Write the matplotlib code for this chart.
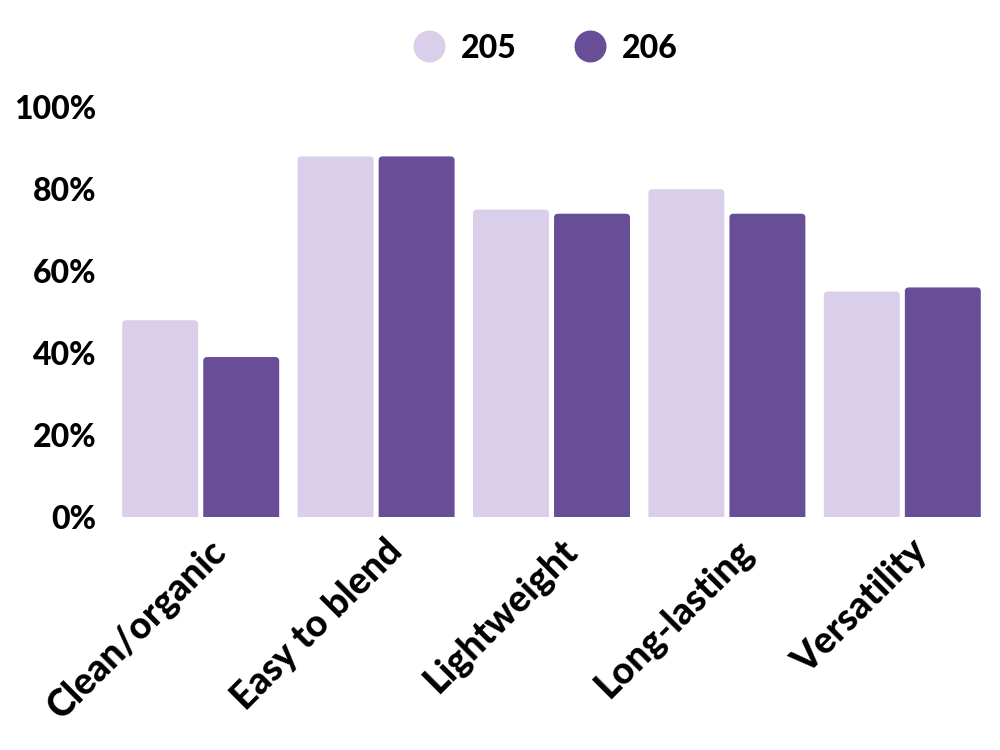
import matplotlib.pyplot as plt
import matplotlib.transforms as mtrans
from matplotlib.patches import FancyBboxPatch
from matplotlib.lines import Line2D
import numpy as np

plt.rcParams['font.family'] = ['Lato', 'DejaVu Sans']

categories = ["Clean/organic", "Easy to blend", "Lightweight", "Long-lasting", "Versatility"]
series_names = ["205", "206"]
values_205 = [48, 88, 75, 80, 55]
values_206 = [39, 88, 74, 74, 56]
colors = ["#d9cfea", "#684d97"]

fig = plt.figure(figsize=(10, 7.5), dpi=100)
ax = fig.add_axes([0.113, 0.311, 0.877, 0.546])

x = np.arange(len(categories))
width = 0.433
offset = 0.231

for vals, off, col, name in [(values_205, -offset, colors[0], series_names[0]),
                             (values_206, offset, colors[1], series_names[1])]:
    bars = ax.bar(x + off, vals, width=width, color=col, label=name)
    # swap plain rectangles for ones with slightly rounded tops
    for b in bars:
        b.set_visible(False)
        fb = FancyBboxPatch((b.get_x(), -2), b.get_width(), b.get_height() + 2,
                            boxstyle="round,pad=0,rounding_size=0.023",
                            mutation_aspect=42, facecolor=col, edgecolor='none')
        ax.add_patch(fb)

ax.set_xlim(-0.5, len(categories) - 0.5)
ax.set_ylim(0, 100)
ax.set_yticks([0, 20, 40, 60, 80, 100])
ax.set_yticklabels([f"{v}%" for v in [0, 20, 40, 60, 80, 100]],
                   fontsize=23, fontweight='black')
ax.set_xticks(x)
ax.set_xticklabels(categories, rotation=45, ha='right', rotation_mode='anchor',
                   fontsize=27, fontweight='black')
ax.tick_params(axis='y', length=0, pad=12)
ax.tick_params(axis='x', length=0, pad=12)
shift = mtrans.ScaledTranslation(8 / 100, 0, fig.dpi_scale_trans)
for lbl in ax.get_xticklabels():
    lbl.set_transform(lbl.get_transform() + shift)

for s in ax.spines.values():
    s.set_visible(False)

handles = [Line2D([], [], marker='o', linestyle='none', markersize=23,
                  markerfacecolor=c, markeredgecolor='none') for c in colors]
fig.legend(handles, series_names, loc='center', bbox_to_anchor=(0.542, 0.936),
           ncol=2, frameon=False, handletextpad=0.3, columnspacing=1.6,
           handlelength=1.4, prop={'size': 23, 'weight': 'black'})

fig.savefig("out.png", dpi=100)
